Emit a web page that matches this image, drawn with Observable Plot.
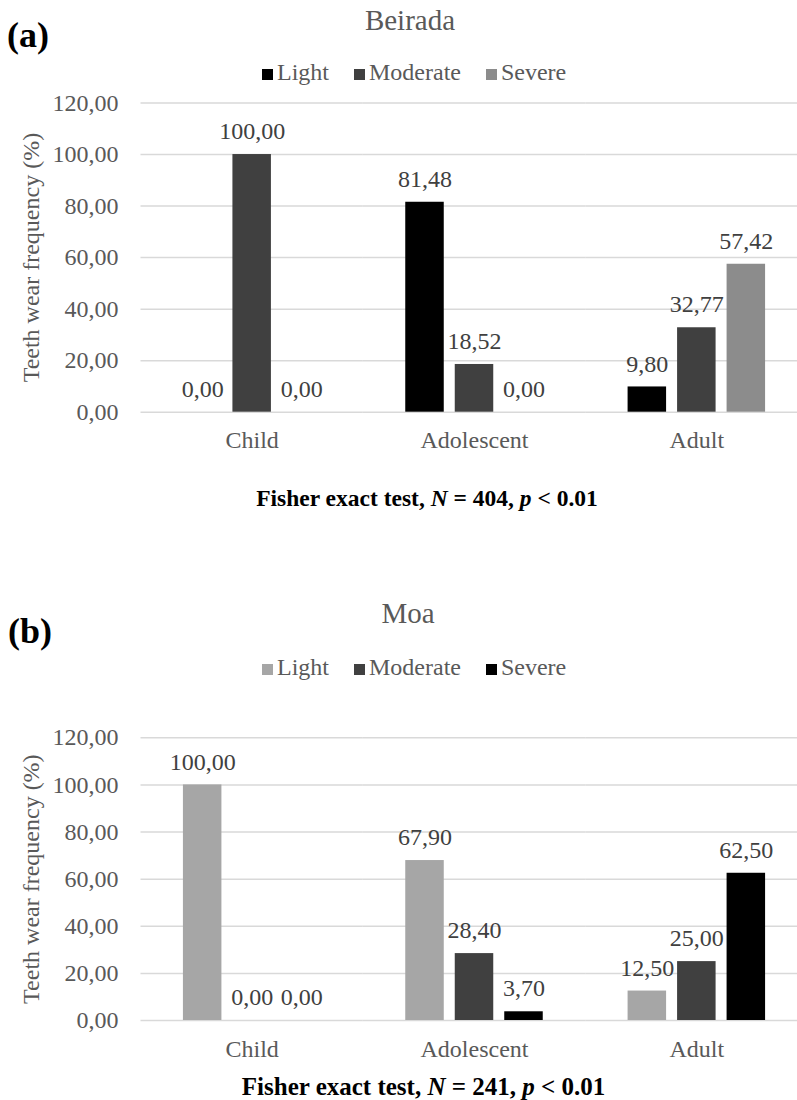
<!DOCTYPE html>
<html><head><meta charset="utf-8">
<script src="https://cdn.jsdelivr.net/npm/d3@7"></script>
<script src="https://cdn.jsdelivr.net/npm/@observablehq/plot@0.6"></script>
<style>
body{margin:0;background:#fff;}
#root{position:relative;width:797px;height:1100px;overflow:hidden;font-family:"Liberation Serif","Times New Roman",Times,"DejaVu Serif",serif;}
#root svg, #root svg text{font-family:"Liberation Serif","Times New Roman",Times,"DejaVu Serif",serif !important;}
.abs{position:absolute;white-space:nowrap;}
.legend{display:flex;align-items:baseline;gap:25px;color:#595959;font-size:24px;line-height:24px;}
.legend .item{display:flex;align-items:baseline;}
.legend .sw{display:inline-block;width:11px;height:11px;margin-right:4px;}
</style></head><body><div id="root"></div>
<script>
const groups = ["Child", "Adolescent", "Adult"];
const severities = ["Light", "Moderate", "Severe"];
const beiradaLight = [0.00, 81.48, 9.80];
const beiradaModerate = [100.00, 18.52, 32.77];
const beiradaSevere = [0.00, 0.00, 57.42];
const moaLight = [100.00, 67.90, 12.50];
const moaModerate = [0.00, 28.40, 25.00];
const moaSevere = [0.00, 3.70, 62.50];
const yTicks = [0, 20, 40, 60, 80, 100, 120];
const panelTitles = ["Beirada", "Moa"];
const panelTags = ["(a)", "(b)"];
const fisherN = [404, 241];
const fisherP = ["0.01", "0.01"];
const beiradaColors = ["#000000", "#404040", "#8c8c8c"];
const moaColors = ["#a6a6a6", "#404040", "#000000"];

const FONT = '"Liberation Serif", "Times New Roman", Times, "DejaVu Serif", serif';
const fmt = v => v.toFixed(2).replace(".", ",");
function table(series) {
  const rows = [];
  groups.forEach((g, i) => severities.forEach((s, j) => rows.push({group: g, severity: s, value: series[j][i]})));
  return rows;
}
const root = document.getElementById("root");
function addDiv(html, style, cls) {
  const d = document.createElement("div");
  d.className = "abs" + (cls ? " " + cls : "");
  d.innerHTML = html;
  Object.assign(d.style, style);
  root.appendChild(d);
  return d;
}
function legend(colors, top) {
  const d = addDiv("", {left: "262px", top: top + "px"}, "legend");
  severities.forEach((s, i) => {
    const it = document.createElement("span");
    it.className = "item";
    it.innerHTML = `<span class="sw" style="background:${colors[i]}"></span><span>${s}</span>`;
    d.appendChild(it);
  });
}
function panel(series, colors, top, height, marginTop, marginBottom) {
  const data = table(series);
  const svg = Plot.plot({
    width: 797, height, marginTop, marginBottom, marginLeft: 140.5, marginRight: 0,
    style: {fontFamily: FONT, fontSize: "24px", background: "transparent", overflow: "visible"},
    fx: {domain: groups, range: [140.5, 807.5], padding: 0, round: false, label: null},
    x: {domain: severities, paddingInner: 0.2222, paddingOuter: 0.857, round: false, axis: null},
    y: {domain: [0, 120], axis: null},
    color: {domain: severities, range: colors},
    marks: [
      Plot.ruleY(yTicks, {stroke: "#d9d9d9", strokeWidth: 1.5}),
      Plot.axisY({ticks: yTicks, tickFormat: fmt, tickSize: 0, tickPadding: 22.5, fill: "#595959", fontSize: 24,
        label: "Teeth wear frequency (%)", labelAnchor: "center", labelArrow: "none", labelOffset: 119.5}),
      Plot.axisFx({anchor: "bottom", tickSize: 0, tickPadding: 19, fill: "#595959", fontSize: 24, label: null}),
      Plot.barY(data, {fx: "group", x: "severity", y: "value", fill: "severity", inset: 0}),
      Plot.text(data, {fx: "group", x: "severity", y: "value", text: d => fmt(d.value), dy: -23, fill: "#404040", fontSize: 24})
    ]
  });
  svg.style.position = "absolute";
  svg.style.left = "0px";
  svg.style.top = top + "px";
  root.appendChild(svg);
}
// Panel (a)
addDiv(panelTags[0], {left: "7px", top: "16.9px", fontSize: "36px", lineHeight: "36px", fontWeight: "bold", color: "#000"});
addDiv(panelTitles[0], {left: "0px", width: "820px", textAlign: "center", top: "5.7px", fontSize: "29px", lineHeight: "29px", color: "#595959"});
legend(beiradaColors, 59.9);
panel([beiradaLight, beiradaModerate, beiradaSevere], beiradaColors, 92, 370, 10.5, 50.3);
addDiv(`<b>Fisher exact test, <i>N</i> = ${fisherN[0]}, <i>p</i> &lt; ${fisherP[0]}</b>`,
  {left: "0px", width: "854px", textAlign: "center", top: (507 - 0.8375 * 23.5) + "px", fontSize: "23.5px", lineHeight: "23.5px", color: "#000"});
// Panel (b)
addDiv(panelTags[1], {left: "8px", top: "612.9px", fontSize: "36px", lineHeight: "36px", fontWeight: "bold", color: "#000"});
addDiv(panelTitles[1], {left: "0px", width: "816px", textAlign: "center", top: "598.7px", fontSize: "29px", lineHeight: "29px", color: "#595959"});
legend(moaColors, 654.9);
panel([moaLight, moaModerate, moaSevere], moaColors, 720, 350, 17.3, 50);
addDiv(`<b>Fisher exact test, <i>N</i> = ${fisherN[1]}, <i>p</i> &lt; ${fisherP[1]}</b>`,
  {left: "0px", width: "847px", textAlign: "center", top: (1094.5 - 0.8375 * 25) + "px", fontSize: "25px", lineHeight: "25px", color: "#000"});
</script></body></html>
